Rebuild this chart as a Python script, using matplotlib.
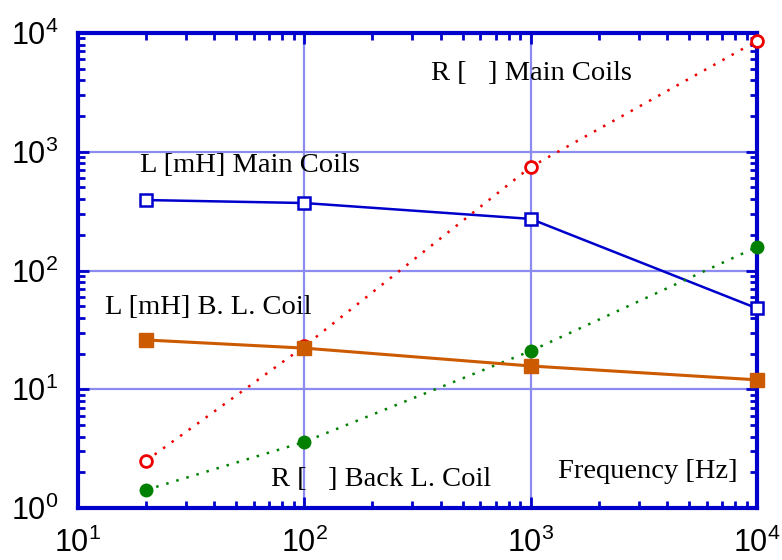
import matplotlib
matplotlib.use("Agg")
import matplotlib.pyplot as plt
from matplotlib.ticker import LogLocator, LogFormatterSciNotation, NullFormatter

# Frequencies [Hz]
freq = [20, 100, 1000, 10000]

# Measured coil parameters
l_main = [392, 370, 272, 48]        # L [mH] main coils
r_main = [2.5, 23, 745, 8570]       # R [Ohm] main coils
l_back = [26, 22.2, 15.7, 12.0]     # L [mH] back-loading coil
r_back = [1.42, 3.6, 21, 158]       # R [Ohm] back-loading coil

plt.rcParams["mathtext.fontset"] = "custom"
plt.rcParams["mathtext.rm"] = "Liberation Sans"
plt.rcParams["mathtext.it"] = "Liberation Sans"

fig = plt.figure(figsize=(7.82, 5.6), dpi=100)
ax = fig.add_axes([78 / 782, 52 / 560, 679 / 782, 475 / 560])
ax.set_xscale("log")
ax.set_yscale("log")
ax.set_xlim(10, 1e4)
ax.set_ylim(1, 1e4)

frame_blue = "#0000cc"
grid_blue = "#8c8cf0"

ax.grid(True, which="major", color=grid_blue, lw=1.6)
ax.set_axisbelow(True)

dots = (0, (1, 3.2))
ax.plot(freq, l_main, color="#0000cc", lw=1.8, marker="s", ms=8,
        mfc="white", mec="#0000cc", mew=1.8, zorder=3, clip_on=False)
ax.plot(freq, r_main, color="#ee0000", lw=1.8, ls=dots, marker="o", ms=8.5,
        mfc="white", mec="#ee0000", mew=2.0, zorder=3, clip_on=False)
ax.plot(freq, r_back, color="#008000", lw=1.8, ls=dots, marker="o", ms=9,
        mfc="#008000", mec="#008000", zorder=3, clip_on=False)
ax.plot(freq, l_back, color="#cc5a00", lw=2.2, marker="s", ms=10,
        mfc="#cc5a00", mec="#cc5a00", zorder=4, clip_on=False)

serif = "Liberation Serif"
ts = 20.5
labels = [
    ("R [   ] Main Coils", 431, 73),
    ("L [mH] Main Coils", 140, 165),
    ("L [mH] B. L. Coil", 105, 307),
    ("R [   ] Back L. Coil", 271, 479),
    ("Frequency [Hz]", 558, 472),
]
for txt, px, py in labels:
    fig.text(px / 782, 1 - py / 560, txt, fontsize=ts, family=serif,
             va="center", ha="left")

for sp in ax.spines.values():
    sp.set_color(frame_blue)
    sp.set_linewidth(3)

for axis in (ax.xaxis, ax.yaxis):
    axis.set_major_locator(LogLocator(base=10, numticks=10))
    axis.set_minor_locator(LogLocator(base=10, subs=range(2, 10), numticks=20))
    axis.set_major_formatter(LogFormatterSciNotation())
    axis.set_minor_formatter(NullFormatter())

ax.tick_params(which="both", direction="in", top=True, right=True,
               color=frame_blue, width=2)
ax.tick_params(which="major", length=8, labelsize=22)
ax.tick_params(axis="x", which="major", pad=14)
ax.tick_params(axis="y", which="major", pad=14)
ax.tick_params(which="minor", length=5)
for lab in ax.get_xticklabels() + ax.get_yticklabels():
    lab.set_family("Liberation Sans")

fig.savefig("out.png", dpi=100)
